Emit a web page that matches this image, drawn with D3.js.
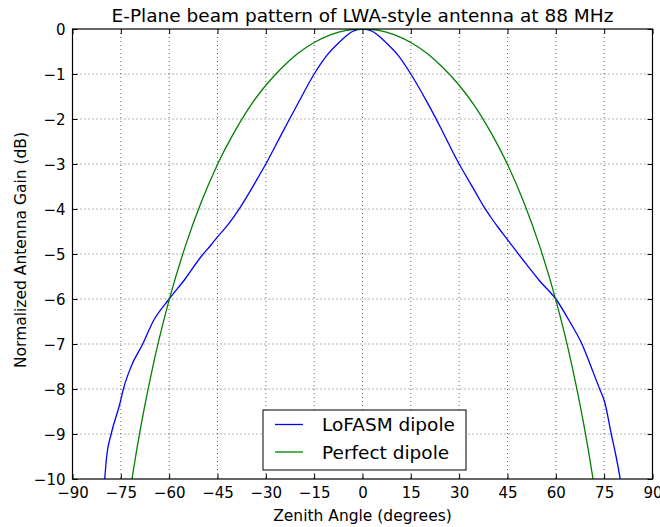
<!DOCTYPE html>
<html>
<head>
<meta charset="utf-8">
<script src="https://cdn.jsdelivr.net/npm/d3@7"></script>
<style>
  body { margin: 0; background: #fff; }
  svg text { font-family: "DejaVu Sans", sans-serif; fill: #000; }
</style>
</head>
<body>
<svg id="chart" width="660" height="527"></svg>
<script>
// Zenith angle samples (degrees) and gains (dB)
const lofasmAngles = [-80, -79.4, -78, -75.2, -74.2, -71.8, -68.2, -65, -60, -55, -50, -47, -45, -42, -40, -38, -35, -32, -30, -25, -23, -20, -15, -11, -7, -5, -3, 0,
                      3, 5, 7, 11, 15, 20, 23, 25, 30, 32, 35, 37.5, 40, 42, 45, 47, 50, 55, 60, 64.3, 68.1, 70.9, 73.6, 75.2, 77.2, 78.7, 80];
const lofasmGain   = [-10.0, -9.5, -9.0, -8.3, -8.0, -7.5, -7.0, -6.5, -6.0, -5.55, -5.05, -4.8, -4.62, -4.37, -4.18, -3.97, -3.62, -3.25, -3.0, -2.32, -2.05, -1.65, -1.0, -0.58, -0.28, -0.15, -0.05, 0,
                      -0.05, -0.15, -0.28, -0.58, -1.0, -1.62, -2.02, -2.3, -3.0, -3.25, -3.62, -3.93, -4.2, -4.4, -4.68, -4.87, -5.15, -5.6, -6.0, -6.5, -7.0, -7.5, -8.0, -8.3, -9.0, -9.5, -10.0];

const dipoleAngles = [-72, -70, -65, -60, -55, -50, -45, -40, -35, -30, -25, -20, -15, -10, -5, 0,
                      5, 10, 15, 20, 25, 30, 35, 40, 45, 50, 55, 60, 65, 70, 72];
const dipoleGain   = [-10.2, -9.32, -7.48, -6.02, -4.83, -3.84, -3.01, -2.32, -1.73, -1.25, -0.86, -0.54, -0.30, -0.13, -0.03, 0,
                      -0.03, -0.13, -0.30, -0.54, -0.86, -1.25, -1.73, -2.32, -3.01, -3.84, -4.83, -6.02, -7.48, -9.32, -10.2];

const xTicks = [-90, -75, -60, -45, -30, -15, 0, 15, 30, 45, 60, 75, 90];
const yTicks = [0, -1, -2, -3, -4, -5, -6, -7, -8, -9, -10];

const series = [
  { name: "LoFASM dipole", color: "#0000ff", x: lofasmAngles, y: lofasmGain },
  { name: "Perfect dipole", color: "#008000", x: dipoleAngles, y: dipoleGain }
];

const margin = { left: 72.5, right: 7.5, top: 29, bottom: 48 };
const W = 660, H = 527;
const svg = d3.select("#chart");

const x = d3.scaleLinear().domain([-90, 90]).range([margin.left, W - margin.right]);
const y = d3.scaleLinear().domain([-10, 0]).range([H - margin.bottom, margin.top]);

// Grid
const grid = svg.append("g");
grid.selectAll("line.gx").data(xTicks.slice(1, -1)).enter().append("line")
  .attr("x1", d => x(d)).attr("x2", d => x(d))
  .attr("y1", y(0)).attr("y2", y(-10))
  .attr("stroke", "#000").attr("stroke-width", 0.6).attr("stroke-dasharray", "1,3");
grid.selectAll("line.gy").data(yTicks.slice(1, -1)).enter().append("line")
  .attr("x1", x(-90)).attr("x2", x(90))
  .attr("y1", d => y(d)).attr("y2", d => y(d))
  .attr("stroke", "#000").attr("stroke-width", 0.6).attr("stroke-dasharray", "1,3");

// Clip for lines
svg.append("clipPath").attr("id", "clip").append("rect")
  .attr("x", x(-90)).attr("y", y(0)).attr("width", x(90) - x(-90)).attr("height", y(-10) - y(0));

const line = d3.line().x(d => x(d[0])).y(d => y(d[1])).curve(d3.curveMonotoneX);
svg.append("g").attr("clip-path", "url(#clip)").selectAll("path")
  .data(series).enter().append("path")
  .attr("d", s => line(s.x.map((a, i) => [a, s.y[i]])))
  .attr("fill", "none").attr("stroke", s => s.color).attr("stroke-width", 1.3);

// Axes (ticks inward on all four sides, classic style)
const tl = 5;
const fmt = d => d3.format("")(d).replace("-", "\u2212");
const axB = d3.axisBottom(x).tickValues(xTicks).tickSizeInner(-tl).tickSizeOuter(0).tickPadding(8).tickFormat(fmt);
const axT = d3.axisTop(x).tickValues(xTicks).tickSizeInner(-tl).tickSizeOuter(0).tickFormat("");
const axL = d3.axisLeft(y).tickValues(yTicks).tickSizeInner(-tl).tickSizeOuter(0).tickPadding(7).tickFormat(fmt);
const axR = d3.axisRight(y).tickValues(yTicks).tickSizeInner(-tl).tickSizeOuter(0).tickFormat("");

function style(g) {
  g.select(".domain").remove();
  g.selectAll(".tick line").attr("stroke", "#000").attr("stroke-width", 1);
  g.selectAll(".tick text").style("font-size", "15px").attr("fill", "#000");
}
svg.append("g").attr("transform", `translate(0,${y(-10)})`).call(axB).call(style);
svg.append("g").attr("transform", `translate(0,${y(0)})`).call(axT).call(style);
svg.append("g").attr("transform", `translate(${x(-90)},0)`).call(axL).call(style)
  .selectAll(".tick text").attr("dy", "0.36em");
svg.append("g").attr("transform", `translate(${x(90)},0)`).call(axR).call(style);

// Frame
svg.append("rect")
  .attr("x", x(-90)).attr("y", y(0))
  .attr("width", x(90) - x(-90)).attr("height", y(-10) - y(0))
  .attr("fill", "none").attr("stroke", "#000").attr("stroke-width", 1.2);

// Title and labels
svg.append("text").attr("x", (x(-90) + x(90)) / 2).attr("y", 22)
  .attr("text-anchor", "middle").style("font-size", "18.5px")
  .text("E-Plane beam pattern of LWA-style antenna at 88 MHz");
svg.append("text").attr("x", (x(-90) + x(90)) / 2).attr("y", 521)
  .attr("text-anchor", "middle").style("font-size", "15.5px")
  .text("Zenith Angle (degrees)");
svg.append("text")
  .attr("transform", "translate(26,250) rotate(-90)")
  .attr("text-anchor", "middle").style("font-size", "15.5px")
  .text("Normalized Antenna Gain (dB)");

// Legend
const lg = svg.append("g").attr("transform", "translate(263,410)");
lg.append("rect").attr("width", 203).attr("height", 60)
  .attr("fill", "#fff").attr("stroke", "#000").attr("stroke-width", 1);
series.forEach((s, i) => {
  const yy = 14.5 + i * 27.5;
  lg.append("line").attr("x1", 12).attr("x2", 40).attr("y1", yy).attr("y2", yy)
    .attr("stroke", s.color).attr("stroke-width", 1.3);
  lg.append("text").attr("x", 59).attr("y", yy).attr("dy", "0.36em")
    .style("font-size", "18.5px").text(s.name);
});
</script>
</body>
</html>
